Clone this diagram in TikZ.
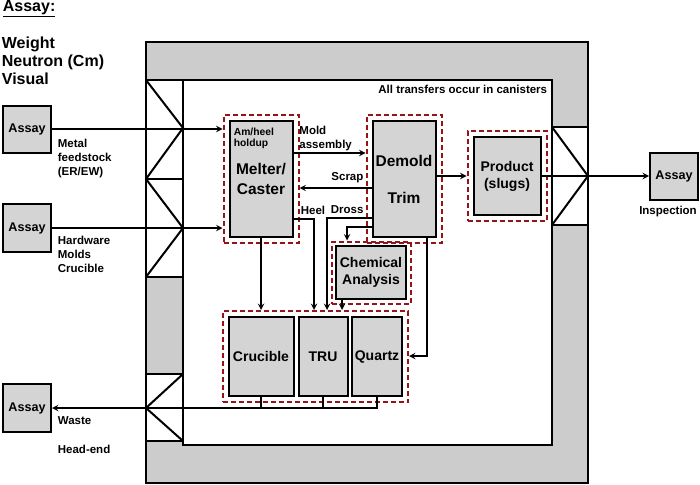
\documentclass[tikz,border=0pt]{standalone}
\usepackage{fontspec}
\setmainfont{Liberation Sans}
\usetikzlibrary{arrows, positioning, fit}

\definecolor{wallgray}{RGB}{204,204,204}
\definecolor{boxgray}{RGB}{212,212,212}
\definecolor{holdred}{RGB}{150,20,25}

\newcommand\fHead{\bfseries\fontsize{16}{18}\selectfont}
\newcommand\fStep{\bfseries\fontsize{15.5}{20}\selectfont}
\newcommand\fUnit{\bfseries\fontsize{14}{17}\selectfont}
\newcommand\fAssay{\bfseries\fontsize{12.6}{15}\selectfont}
\newcommand\fNote{\bfseries\fontsize{11.5}{14}\selectfont}
\newcommand\fTiny{\bfseries\fontsize{10.3}{11.5}\selectfont}

\begin{document}
\begin{tikzpicture}[
            x = 1pt, y = -1pt, % pixel units, y runs down
            > = stealth, % arrow head style
            line width = 1.8pt, % line style
            node distance = 62pt
        ]

        \tikzstyle{unit}=[
            draw = black,
            line width = 2pt,
            fill = boxgray,
            align = center,
            inner sep = 0pt
        ]
        \tikzstyle{hold}=[
            draw = holdred,
            line width = 2pt,
            dash pattern = on 5pt off 3pt,
            inner sep = 5pt
        ]
        \tikzstyle{note}=[
            font = \fNote,
            align = left,
            inner sep = 0pt
        ]
        \tikzstyle{wall}=[
            draw = black,
            line width = 2pt
        ]

        \useasboundingbox (0,0) rectangle (700,484);

        % shielded room and its pass-through windows
        \draw[wall, fill = wallgray] (146,42) rectangle (588,483);
        \draw[wall, fill = white] (183,80) rectangle (552,445);
        \draw[wall, fill = white] (146,80) rectangle (183,179);
        \draw[wall, fill = white] (146,179) rectangle (183,277);
        \draw[wall, fill = white] (146,374) rectangle (183,441);
        \draw[wall, fill = white] (552,127) rectangle (588,225);
        \draw[wall] (146,80) -- (183,128) -- (146,179) -- (183,228) -- (146,277);
        \draw[wall] (183,374) -- (146,408) -- (183,441);
        \draw[wall] (552,127) -- (588,176) -- (552,225);

        % headings
        \node[anchor = north west, inner sep = 0pt, font = \fHead] (title) at (2,0) {\underline{Assay:}};
        \node[anchor = north west, inner sep = 0pt, align = left, font = \fHead] (methods) at (1,36) {Weight\\Neutron (Cm)\\Visual};
        \node[note, anchor = east] (canisters) at (548,89) {All transfers occur in canisters};

        % assay stations
        \node[unit, minimum width = 48pt, minimum height = 47pt, font = \fAssay] (assayMetal) at (27,129) {Assay};
        \node[unit, minimum width = 48pt, minimum height = 48pt, font = \fAssay] (assayHw) at (27,228) {Assay};
        \node[unit, minimum width = 48pt, minimum height = 48pt, font = \fAssay] (assayWaste) at (27,408) {Assay};
        \node[unit, minimum width = 48pt, minimum height = 47pt, font = \fAssay] (assayInsp) at (674,176) {Assay};

        \node[note, anchor = north west] (metalLbl) at (57,138) {Metal\\feedstock\\(ER/EW)};
        \node[note, anchor = north west] (hwLbl) at (57,235) {Hardware\\Molds\\Crucible};
        \node[note, anchor = west] (wasteLbl) at (57,421) {Waste};
        \node[note, anchor = west] (headLbl) at (57,449) {Head-end};
        \node[note] (inspLbl) at (668,212) {Inspection};

        % process steps
        \node[unit, minimum width = 63pt, minimum height = 116pt, font = \fStep] (melter) at (261,178.5) {Melter/\\Caster};
        \node[unit, minimum width = 63pt, minimum height = 116pt, font = \fStep] (demold) at (404,179) {Demold\\[17pt]Trim};
        \node[unit, minimum width = 67pt, minimum height = 78pt, font = \fUnit] (product) at (507,176) {Product\\(slugs)};
        \node[unit, minimum width = 70pt, minimum height = 53pt, font = \fUnit] (chem) at (371,272.5) {Chemical\\Analysis};
        \node[unit, minimum width = 65pt, minimum height = 79pt, font = \fUnit] (crucible) at (261,356.5) {Crucible};
        \node[unit, minimum width = 49pt, minimum height = 79pt, font = \fUnit] (tru) [right of = crucible] {TRU};
        \node[unit, minimum width = 50pt, minimum height = 79pt, font = \fUnit] (quartz) [right of = tru, node distance = 54pt] {Quartz};

        \node[anchor = north west, inner sep = 0pt, align = left, font = \fTiny] (holdup) at (233,127) {Am/heel\\holdup};

        % material holders
        \node[hold, fit = (melter)] (melterHold) {};
        \node[hold, fit = (demold)] (demoldHold) {};
        \node[hold, fit = (product)] (productHold) {};
        \node[hold, fit = (chem), inner sep = 3.5pt] (chemHold) {};
        \node[hold, fit = (crucible)(quartz)] (groupHold) {};

        % turning points
        \coordinate (moldLvl) at (0,153);
        \coordinate (scrapLvl) at (0,188);
        \coordinate (heelTurn) at (314,219);
        \coordinate (drossTurn) at (327,218);
        \coordinate (chemTurn) at (347,227);
        \coordinate (quartzTurn) at (427,356);
        \coordinate (wasteBus) at (0,408);

        % flows
        \draw[->] (assayMetal.east) -- (melterHold.west |- assayMetal);
        \draw[->] (assayHw.east) -- (melterHold.west |- assayHw);
        \draw[->] (melter.east |- moldLvl) -- (demoldHold.west |- moldLvl)
            node[note, pos = 0.07, anchor = south west, yshift = 1pt] {Mold\\assembly};
        \draw[->] (demold.west |- scrapLvl) -- (melterHold.east |- scrapLvl)
            node[note, pos = 0.1, anchor = south east, yshift = 4pt] {Scrap};
        \draw[->] (melter.east |- heelTurn) -- (heelTurn) -- (heelTurn |- groupHold.north);
        \draw[->] (demold.west |- drossTurn) -- (drossTurn) -- (drossTurn |- groupHold.north);
        \node[note, anchor = west] (heelLbl) at (300,210) {Heel};
        \node[note, anchor = west] (drossLbl) at (330,210) {Dross};
        \draw[->] (demold.west |- chemTurn) -- (chemTurn) -- (chemTurn |- chemHold.north);
        \draw[->] ([xshift = -29pt]chem.south) -- ([xshift = -29pt]chem.south |- groupHold.north);
        \draw[->] (melter.south) -- (melter.south |- groupHold.north);
        \draw[->] (demold.south -| quartzTurn) -- (quartzTurn) -- (groupHold.east |- quartzTurn);
        \draw[->] (demold.east |- product) -- (productHold.west);
        \draw[->] (product.east) -- (assayInsp.west);
        \draw (crucible.south) -- (crucible.south |- wasteBus);
        \draw (tru.south) -- (tru.south |- wasteBus);
        \draw[->] (quartz.south) -- (quartz.south |- wasteBus) -- (assayWaste.east |- wasteBus);

  \end{tikzpicture}
\end{document}
